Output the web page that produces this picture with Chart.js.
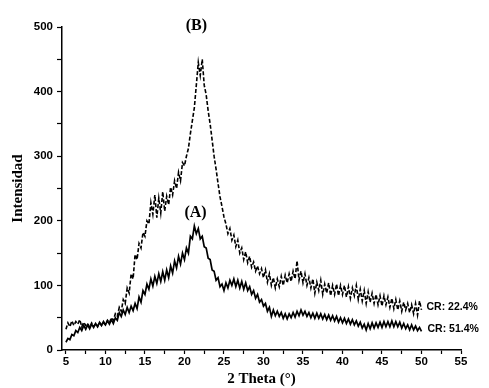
<!DOCTYPE html>
<html>
<head>
<meta charset="utf-8">
<script src="https://cdn.jsdelivr.net/npm/chart.js@4"></script>
<style>
html, body { margin: 0; padding: 0; background: #fff; }
#wrap { width: 489px; height: 388px; }
</style>
</head>
<body>
<div id="wrap"><canvas id="chart" width="489" height="388"></canvas></div>
<script>
// 2 theta grid (degrees), 0.25 steps
const twoTheta = [
    5, 5.25, 5.5, 5.75, 6, 6.25, 6.5, 6.75, 7, 7.25, 7.5, 7.75, 8, 8.25, 8.5, 8.75, 9, 9.25, 9.5, 9.75,
    10, 10.25, 10.5, 10.75, 11, 11.25, 11.5, 11.75, 12, 12.25, 12.5, 12.75, 13, 13.25, 13.5, 13.75, 14, 14.25, 14.5, 14.75,
    15, 15.25, 15.5, 15.75, 16, 16.25, 16.5, 16.75, 17, 17.25, 17.5, 17.75, 18, 18.25, 18.5, 18.75, 19, 19.25, 19.5, 19.75,
    20, 20.25, 20.5, 20.75, 21, 21.25, 21.5, 21.75, 22, 22.25, 22.5, 22.75, 23, 23.25, 23.5, 23.75, 24, 24.25, 24.5, 24.75,
    25, 25.25, 25.5, 25.75, 26, 26.25, 26.5, 26.75, 27, 27.25, 27.5, 27.75, 28, 28.25, 28.5, 28.75, 29, 29.25, 29.5, 29.75,
    30, 30.25, 30.5, 30.75, 31, 31.25, 31.5, 31.75, 32, 32.25, 32.5, 32.75, 33, 33.25, 33.5, 33.75, 34, 34.25, 34.5, 34.75,
    35, 35.25, 35.5, 35.75, 36, 36.25, 36.5, 36.75, 37, 37.25, 37.5, 37.75, 38, 38.25, 38.5, 38.75, 39, 39.25, 39.5, 39.75,
    40, 40.25, 40.5, 40.75, 41, 41.25, 41.5, 41.75, 42, 42.25, 42.5, 42.75, 43, 43.25, 43.5, 43.75, 44, 44.25, 44.5, 44.75,
    45, 45.25, 45.5, 45.75, 46, 46.25, 46.5, 46.75, 47, 47.25, 47.5, 47.75, 48, 48.25, 48.5, 48.75, 49, 49.25, 49.5, 49.75,
    50
];

// (A) CR: 51.4% - solid trace
const intensA = [
    12, 18, 16, 24, 22, 30, 27, 35, 30, 38, 32, 39, 33, 40, 35, 41, 36, 43, 38, 44,
    39, 45, 40, 47, 41, 50, 46, 58, 52, 62, 55, 66, 58, 68, 61, 72, 64, 82, 74, 92,
    86, 102, 94, 110, 99, 114, 103, 118, 106, 121, 108, 124, 112, 130, 119, 138, 127, 145, 133, 150,
    140, 158, 150, 176, 172, 192, 180, 188, 172, 176, 160, 158, 142, 140, 124, 122, 108, 112, 98, 102,
    92, 104, 96, 108, 100, 110, 98, 108, 96, 106, 94, 104, 92, 98, 86, 92, 80, 86, 74, 78,
    68, 72, 60, 66, 52, 62, 53, 60, 52, 58, 49, 56, 48, 56, 50, 58, 51, 60, 53, 62,
    54, 60, 52, 58, 50, 57, 49, 57, 49, 56, 48, 55, 47, 54, 46, 53, 45, 52, 43, 50,
    42, 49, 41, 48, 40, 47, 39, 45, 37, 43, 34, 40, 31, 41, 33, 42, 34, 42, 35, 43,
    35, 44, 36, 44, 36, 45, 36, 44, 36, 43, 34, 41, 33, 39, 31, 39, 31, 37, 30, 35,
    29
];

// (B) CR: 22.4% - dashed trace
const intensB = [
    32, 42, 36, 45, 38, 44, 40, 47, 36, 43, 38, 41, 35, 42, 37, 40, 36, 43, 38, 42,
    39, 46, 42, 50, 46, 56, 52, 66, 60, 78, 72, 96, 88, 118, 110, 148, 140, 165, 158, 182,
    176, 200, 195, 228, 210, 240, 205, 235, 212, 245, 215, 238, 225, 252, 240, 262, 250, 275, 262, 290,
    285, 300, 312, 335, 355, 375, 410, 445, 425, 450, 410, 395, 370, 350, 325, 300, 280, 258, 237, 222,
    206, 195, 180, 188, 170, 178, 160, 170, 150, 158, 140, 152, 135, 145, 128, 136, 122, 130, 118, 126,
    112, 124, 105, 118, 100, 112, 96, 110, 98, 114, 100, 116, 104, 118, 106, 122, 110, 138, 108, 122,
    104, 118, 100, 112, 96, 110, 88, 105, 92, 108, 86, 102, 88, 104, 84, 100, 86, 102, 84, 100,
    86, 100, 82, 98, 80, 96, 84, 100, 78, 94, 76, 92, 72, 90, 74, 88, 72, 86, 70, 84,
    68, 84, 70, 82, 66, 80, 64, 78, 62, 76, 60, 74, 62, 72, 58, 70, 56, 72, 54, 76,
    62
];

const xTicks = [5, 7.5, 10, 12.5, 15, 17.5, 20, 22.5, 25, 27.5, 30, 32.5, 35, 37.5, 40, 42.5, 45, 47.5, 50, 52.5, 55];

const tickFont = { family: 'Liberation Sans', size: 11.5, weight: 'bold' };
const titleFont = { family: 'Liberation Serif', size: 15, weight: 'bold' };

// Labels (A), (B) and CR values drawn at data positions
const notesPlugin = {
    id: 'notes',
    afterDraw(chart) {
        const { ctx, scales: { x, y } } = chart;
        ctx.save();
        ctx.fillStyle = '#000';
        ctx.textBaseline = 'middle';

        ctx.font = 'bold 16px "Liberation Serif"';
        ctx.textAlign = 'center';
        ctx.fillText('(B)', x.getPixelForValue(21.5), y.getPixelForValue(501));
        ctx.fillText('(A)', x.getPixelForValue(21.4), y.getPixelForValue(213));

        ctx.font = 'bold 10.5px "Liberation Sans"';
        ctx.textAlign = 'left';
        ctx.fillText('CR: 22.4%', x.getPixelForValue(50) + 5, y.getPixelForValue(66));
        ctx.fillText('CR: 51.4%', x.getPixelForValue(50) + 6, y.getPixelForValue(32));
        ctx.restore();
    }
};

const ctx = document.getElementById('chart').getContext('2d');
new Chart(ctx, {
    type: 'line',
    data: {
        datasets: [
            {
                label: '(B)',
                data: twoTheta.map((t, i) => ({ x: t, y: intensB[i] })),
                borderColor: '#000',
                borderWidth: 1.6,
                borderDash: [4, 2],
                pointRadius: 0,
                tension: 0
            },
            {
                label: '(A)',
                data: twoTheta.map((t, i) => ({ x: t, y: intensA[i] })),
                borderColor: '#000',
                borderWidth: 1.7,
                pointRadius: 0,
                tension: 0
            }
        ]
    },
    options: {
        responsive: false,
        animation: false,
        layout: { padding: { top: 27, right: 28, left: 0, bottom: 0 } },
        plugins: {
            legend: { display: false },
            tooltip: { enabled: false }
        },
        scales: {
            x: {
                type: 'linear',
                min: 4.5,
                max: 55,
                afterBuildTicks: s => { s.ticks = xTicks.map(v => ({ value: v })); },
                afterFit: s => { s.height = 38; },
                border: { color: '#000', width: 1.5 },
                grid: { drawOnChartArea: false, tickLength: 4, color: '#000', tickWidth: 1.2 },
                ticks: {
                    font: tickFont,
                    color: '#000',
                    padding: 1,
                    autoSkip: false,
                    maxRotation: 0,
                    callback: v => (v % 5 === 0 ? v : '')
                },
                title: {
                    display: true,
                    text: '2 Theta (°)',
                    font: titleFont,
                    color: '#000',
                    padding: { top: 0, bottom: 0 }
                }
            },
            y: {
                min: 0,
                max: 500,
                afterFit: s => { s.width = 62; },
                border: { color: '#000', width: 1.5 },
                grid: { drawOnChartArea: false, tickLength: 5, color: '#000', tickWidth: 1.2 },
                ticks: {
                    stepSize: 50,
                    font: tickFont,
                    color: '#000',
                    padding: 4,
                    callback: v => (v % 100 === 0 ? v : '')
                },
                title: {
                    display: true,
                    text: 'Intensidad',
                    font: titleFont,
                    color: '#000',
                    padding: { top: 9, bottom: 0 }
                }
            }
        }
    },
    plugins: [notesPlugin]
});
</script>
</body>
</html>
